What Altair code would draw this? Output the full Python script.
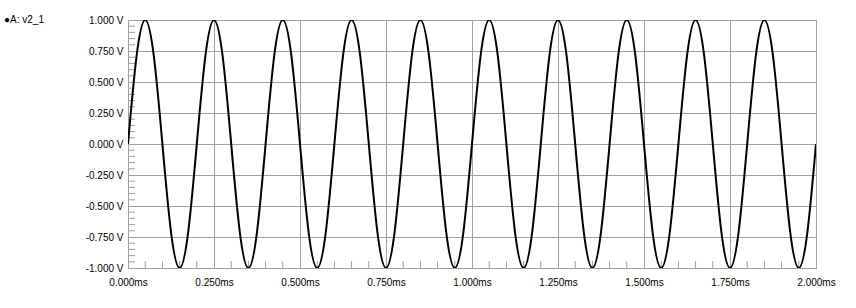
import altair as alt
import pandas as pd

# Time samples (ms) every 1/8 period and voltage
time_ms = [round(i * 0.025, 3) for i in range(81)]
volts = [
    0.0, 0.71, 1.0, 0.71, 0.0, -0.71, -1.0, -0.71,
    0.0, 0.71, 1.0, 0.71, 0.0, -0.71, -1.0, -0.71,
    0.0, 0.71, 1.0, 0.71, 0.0, -0.71, -1.0, -0.71,
    0.0, 0.71, 1.0, 0.71, 0.0, -0.71, -1.0, -0.71,
    0.0, 0.71, 1.0, 0.71, 0.0, -0.71, -1.0, -0.71,
    0.0, 0.71, 1.0, 0.71, 0.0, -0.71, -1.0, -0.71,
    0.0, 0.71, 1.0, 0.71, 0.0, -0.71, -1.0, -0.71,
    0.0, 0.71, 1.0, 0.71, 0.0, -0.71, -1.0, -0.71,
    0.0, 0.71, 1.0, 0.71, 0.0, -0.71, -1.0, -0.71,
    0.0, 0.71, 1.0, 0.71, 0.0, -0.71, -1.0, -0.71,
    0.0,
]

x_major = [0.0, 0.25, 0.5, 0.75, 1.0, 1.25, 1.5, 1.75, 2.0]
y_major = [-1.0, -0.75, -0.5, -0.25, 0.0, 0.25, 0.5, 0.75, 1.0]
x_minor = [round(a + d, 3) for a in x_major[:-1] for d in (0.05, 0.1, 0.15, 0.2)]
y_minor = [round(a + d, 3) for a in y_major[:-1] for d in (0.05, 0.1, 0.15, 0.2)]
legend_label = ["●A: v2_1"]

W, H = 688, 248
GRID = "#a0a0a0"
FONT = "Liberation Sans"

df = pd.DataFrame({"t": time_ms, "v": volts})
xs = alt.Scale(domain=[0, 2], nice=False, zero=False)
ys = alt.Scale(domain=[-1, 1], nice=False, zero=False)

x_axis = alt.Axis(
    values=x_major, grid=True, gridColor=GRID, domainColor=GRID,
    ticks=False, labelPadding=9, labelOverlap=False, labelFlush=False,
    labelExpr="format(datum.value, '.3f') + 'ms'")
y_axis = alt.Axis(
    values=y_major, grid=True, gridColor=GRID, domainColor=GRID,
    ticks=False, labelPadding=5, labelOverlap=False, labelFlush=False,
    labelExpr="(datum.value < 0 ? '-' : '') + format(abs(datum.value), '.3f') + ' V'")

base = alt.Chart(df).mark_line(
    color="black", strokeWidth=2, interpolate="natural", clip=True
).encode(
    x=alt.X("t:Q", scale=xs, title=None, axis=x_axis),
    y=alt.Y("v:Q", scale=ys, title=None, axis=y_axis),
)

ytick = alt.Chart(pd.DataFrame({"y": y_minor})).mark_rule(color=GRID, strokeWidth=1).encode(
    y=alt.Y("y:Q", scale=ys, title=None, axis=y_axis), x=alt.value(0), x2=alt.value(7))
xtick = alt.Chart(pd.DataFrame({"x": x_minor})).mark_rule(color=GRID, strokeWidth=1).encode(
    x=alt.X("x:Q", scale=xs, title=None, axis=x_axis), y=alt.value(H - 7), y2=alt.value(H))
label = alt.Chart(pd.DataFrame({"txt": legend_label})).mark_text(
    align="left", baseline="middle", fontSize=10, font=FONT, color="black"
).encode(text="txt:N", x=alt.value(-124), y=alt.value(0))

chart = alt.layer(ytick, xtick, base, label).properties(
    width=W, height=H,
    autosize=alt.AutoSizeParams(type="none"),
    padding={"left": 128, "top": 20, "right": 40, "bottom": 40},
).configure_view(stroke=None).configure_axis(
    labelFont=FONT, labelFontSize=10, labelColor="black", gridOpacity=1,
    domainWidth=1, gridWidth=1,
).configure(background="white")

chart.save("out.html", embed_options={"renderer": "svg", "actions": False})
